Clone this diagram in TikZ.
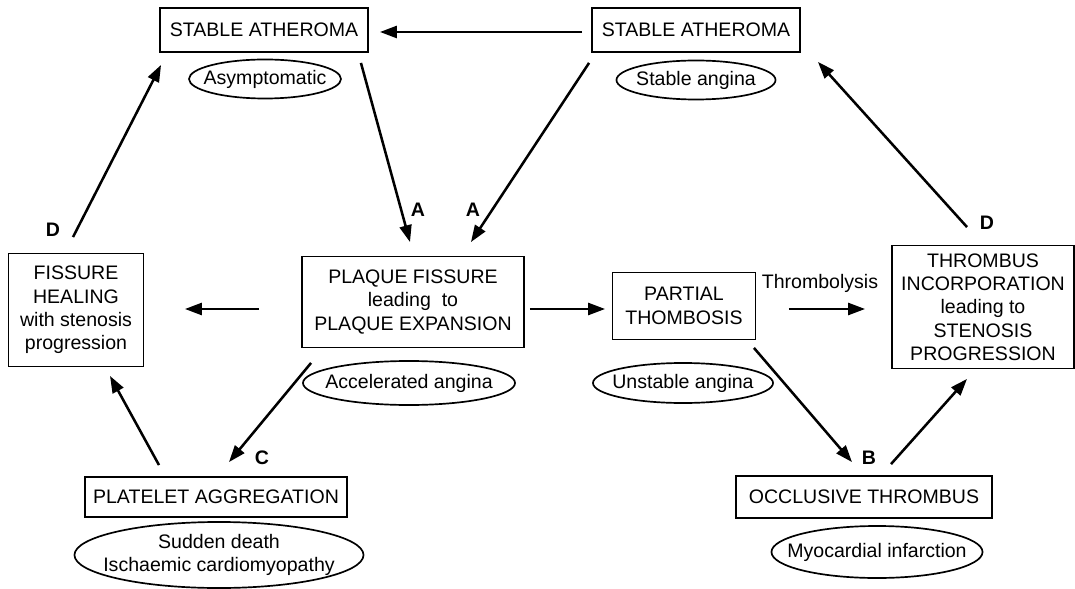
\documentclass[tikz,border=0pt]{standalone}
\usepackage{fontspec}
\setmainfont{Liberation Sans}
\usetikzlibrary{shapes.geometric,arrows.meta,calc}
\newcommand{\nowide}[1]{\makebox[0pt]{#1}}

\begin{document}
\begin{tikzpicture}[
	x=0.025cm, y=-0.025cm,
	every node/.style={font=\fontsize{13.9}{16.6}\selectfont},
	box/.style={
		rectangle,
		draw=black,
		line width=1.3pt,
		align=center,
		inner sep=2pt
	},
	symp/.style={
		ellipse,
		draw=black,
		line width=1.2pt,
		inner sep=0pt
	},
	tag/.style={
		font=\fontsize{13.9}{16.6}\selectfont\bfseries
	},
	flow/.style={
		line width=1.8pt,
		-{Triangle[length=12pt,width=8.5pt]}
	},
]

\useasboundingbox (0,0) rectangle (1075,589);

\node[box, minimum width=5.2cm, minimum height=1.1cm] (stab_l) at (264,30) {STABLE ATHEROMA};
\node[box, minimum width=5.2cm, minimum height=1.1cm] (stab_r) at (696,30) {STABLE ATHEROMA};

\node[box, minimum width=3.375cm, minimum height=2.825cm] (heal) at (76,310) {FISSURE\\HEALING\\with stenosis\\progression};
\node[box, minimum width=5.55cm, minimum height=2.275cm] (fiss) at (413,302) {PLAQUE FISSURE\\leading\ \ to\\PLAQUE EXPANSION};
\node[box, minimum width=3.575cm, minimum height=1.675cm] (part) at (684,306) {PARTIAL\\THOMBOSIS};
\node[box, minimum width=4.55cm, minimum height=3.075cm] (incorp) at (983,307) {THROMBUS\\INCORPORATION\\leading to\\STENOSIS\\PROGRESSION};

\node[box, minimum width=6.55cm, minimum height=1cm] (plat) at (216,497) {PLATELET AGGREGATION};
\node[box, minimum width=6.4cm, minimum height=1.05cm] (occl) at (864,497) {OCCLUSIVE THROMBUS};

% clinical pictures
\node[symp, minimum width=3.8cm, minimum height=0.975cm] (asym) at (265,79) {\nowide{Asymptomatic}};
\node[symp, minimum width=3.975cm, minimum height=0.975cm] (stang) at (696,80) {\nowide{Stable\ angina}};
\node[symp, minimum width=5.3cm, minimum height=1.1cm] (accel) at (409,383) {\nowide{Accelerated\ angina}};
\node[symp, minimum width=4.5cm, minimum height=1cm] (unstab) at (683,383) {\nowide{Unstable\ angina}};
\node[symp, minimum width=7.225cm, minimum height=1.6cm] (sudden) at (219,555) {\nowide{\begin{tabular}{@{}c@{}}Sudden\ death\\Ischaemic cardiomyopathy\end{tabular}}};
\node[symp, minimum width=5.275cm, minimum height=1.3cm] (myo) at (877,552) {\nowide{Myocardial\ infarction}};

% route letters
\node[tag] (lab_a1) at (418,210) {A};
\node[tag] (lab_a2) at (473,210) {A};
\node[tag] (lab_d1) at (53,230) {D};
\node[tag] (lab_d2) at (987,223) {D};
\node[tag] (lab_c) at (262,458) {C};
\node[tag] (lab_b) at (869,458) {B};
\node (lab_lysis) at (820,283) {Thrombolysis};

\draw[flow] ($(stab_r.west)+(-9,2)$) -- ($(stab_l.east)+(11,2)$);
\draw[flow] ($(stab_l.south east)+(-8,10)$) -- ($(fiss.north)+(-3,-13.5)$);
\draw[flow] ($(stab_r.south west)+(-2,10)$) -- ($(fiss.north east)+(-54,-13.5)$);
\draw[flow] ($(heal.north)+(-3,-15.5)$) -- ($(stab_l.south west)+(2,12)$);
\draw[flow] ($(fiss.west)+(-42,7)$) -- ($(heal.east)+(40.5,-1)$);
\draw[flow] ($(fiss.south west)+(10,14.5)$) -- ($(plat.north)+(13,-14)$);
\draw[flow] ($(plat.north)+(-57,-11)$) -- ($(heal.south)+(34,8.5)$);
\draw[flow] ($(fiss.east)+(5,7)$) -- ($(part.west)+(-6.5,3)$);
\draw[flow] ($(part.east)+(32.5,3)$) -- ($(incorp.west)+(-26,2)$);
\draw[flow] ($(incorp.north)+(-16,-17.5)$) -- ($(stab_r.south east)+(17,9)$);
\draw[flow] ($(part.south east)+(-2.5,7.5)$) -- ($(occl.north)+(-12,-13)$);
\draw[flow] ($(occl.north)+(27,-11)$) -- ($(incorp.south)+(-16,9.5)$);

\end{tikzpicture}
\end{document}
